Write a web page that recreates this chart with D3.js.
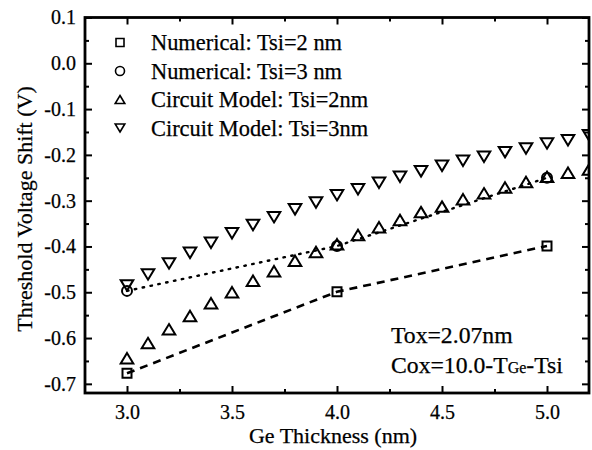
<!DOCTYPE html>
<html><head><meta charset="utf-8">
<script src="https://cdn.jsdelivr.net/npm/d3@7/dist/d3.min.js"></script>
<style>
html,body{margin:0;padding:0;background:#fff;}
text{font-family:"Liberation Serif","Times New Roman",serif;fill:#000;stroke:#000;stroke-width:0.25px;}
</style></head>
<body><svg id="c" width="592" height="450"></svg>
<script>
// ---- data ----
const numX = [3.0, 4.0, 5.0];
const numTsi2 = [-0.677, -0.499, -0.399];
const numTsi3 = [-0.497, -0.399, -0.250];
const cirX = [3.0,3.1,3.2,3.3,3.4,3.5,3.6,3.7,3.8,3.9,4.0,4.1,4.2,4.3,4.4,4.5,4.6,4.7,4.8,4.9,5.0,5.1,5.2];
const cirTsi2 = [-0.644,-0.611,-0.581,-0.552,-0.524,-0.500,-0.475,-0.454,-0.431,-0.412,-0.395,-0.375,-0.358,-0.342,-0.325,-0.313,-0.297,-0.284,-0.271,-0.259,-0.248,-0.239,-0.232];
const cirTsi3 = [-0.485,-0.461,-0.437,-0.414,-0.392,-0.371,-0.353,-0.336,-0.319,-0.304,-0.288,-0.275,-0.261,-0.248,-0.236,-0.224,-0.213,-0.204,-0.194,-0.186,-0.175,-0.168,-0.157];
const xTicks = [3.0, 3.5, 4.0, 4.5, 5.0];
const xMinor = [3.25, 3.75, 4.25, 4.75];
const yTicks = [0.1, 0.0, -0.1, -0.2, -0.3, -0.4, -0.5, -0.6, -0.7];
const yMinor = [0.05, -0.05, -0.15, -0.25, -0.35, -0.45, -0.55, -0.65];
const legendLabels = ["Numerical: Tsi=2 nm", "Numerical: Tsi=3 nm", "Circuit Model: Tsi=2nm", "Circuit Model: Tsi=3nm"];
const legendShapes = ["square", "circle", "up", "down"];

// ---- layout ----
const L = 85, R = 589, T = 17.5, B = 393;
const svg = d3.select("#c");
const x = d3.scaleLinear().domain([2.8, 5.2]).range([L, R]);
const y = d3.scaleLinear().domain([-0.72, 0.1]).range([B, T]);
const fmt = d => d3.format(".1f")(d).replace("\u2212", "-");

function shapePath(kind, s) {
  if (kind === "square") return `M${-s/2},${-s/2}h${s}v${s}h${-s}Z`;
  if (kind === "circle") { const r = s/2; return `M${r},0A${r},${r} 0 1,1 ${-r},0A${r},${r} 0 1,1 ${r},0Z`; }
  const w = s*1.2/2, h = s*0.5;
  if (kind === "up") return `M0,${-h}L${w},${h}L${-w},${h}Z`;
  return `M0,${h}L${w},${-h}L${-w},${-h}Z`;
}

svg.append("defs").append("clipPath").attr("id","clip")
  .append("rect").attr("x", L).attr("y", T).attr("width", R-L).attr("height", B-T);

const plot = svg.append("g").attr("clip-path","url(#clip)");

// lines
const line = d3.line().x(d => x(d[0])).y(d => y(d[1]));
plot.append("path").datum(numX.map((v,i)=>[v,numTsi2[i]])).attr("d", line)
  .attr("fill","none").attr("stroke","#000").attr("stroke-width",2.6).attr("stroke-dasharray","8,6");
plot.append("path").datum(numX.map((v,i)=>[v,numTsi3[i]])).attr("d", line)
  .attr("fill","none").attr("stroke","#000").attr("stroke-width",2.4).attr("stroke-dasharray","1.5,6.5").attr("stroke-linecap","round");

function drawMarkers(xs, ys, kind, size) {
  plot.append("g").selectAll("path").data(xs.map((v,i)=>[v,ys[i]])).join("path")
    .attr("transform", d => `translate(${x(d[0])},${y(d[1])})`)
    .attr("d", shapePath(kind, size))
    .attr("fill","none").attr("stroke","#000").attr("stroke-width",2);
}
drawMarkers(cirX, cirTsi2, "up", 10.5);
drawMarkers(cirX, cirTsi3, "down", 10.5);
drawMarkers(numX, numTsi2, "square", 9);
drawMarkers(numX, numTsi3, "circle", 10);

// axes
const tfs = "20px";
svg.append("g").attr("transform",`translate(0,${B})`)
  .call(d3.axisBottom(x).tickValues(xTicks).tickSizeInner(-7).tickSizeOuter(0).tickPadding(12).tickFormat(fmt));
svg.append("g").attr("transform",`translate(0,${B})`)
  .call(d3.axisBottom(x).tickValues(xMinor).tickSizeInner(-4).tickSizeOuter(0).tickFormat(""));
svg.append("g").attr("transform",`translate(0,${T})`)
  .call(d3.axisTop(x).tickValues(xTicks).tickSizeInner(-7).tickSizeOuter(0).tickFormat(""));
svg.append("g").attr("transform",`translate(0,${T})`)
  .call(d3.axisTop(x).tickValues(xMinor).tickSizeInner(-4).tickSizeOuter(0).tickFormat(""));
svg.append("g").attr("transform",`translate(${L},0)`)
  .call(d3.axisLeft(y).tickValues(yTicks).tickSizeInner(-7).tickSizeOuter(0).tickPadding(9).tickFormat(fmt));
svg.append("g").attr("transform",`translate(${L},0)`)
  .call(d3.axisLeft(y).tickValues(yMinor).tickSizeInner(-4).tickSizeOuter(0).tickFormat(""));
svg.append("g").attr("transform",`translate(${R},0)`)
  .call(d3.axisRight(y).tickValues(yTicks).tickSizeInner(-7).tickSizeOuter(0).tickFormat(""));
svg.append("g").attr("transform",`translate(${R},0)`)
  .call(d3.axisRight(y).tickValues(yMinor).tickSizeInner(-4).tickSizeOuter(0).tickFormat(""));
svg.selectAll(".domain").remove();
svg.selectAll(".tick line").attr("stroke","#000").attr("stroke-width",2);
svg.selectAll(".tick text").attr("font-family",'"Liberation Serif",serif').attr("font-size",tfs).attr("fill","#000").attr("stroke","#000").attr("stroke-width",0.45);

svg.append("rect").attr("x",L).attr("y",T).attr("width",R-L).attr("height",B-T)
  .attr("fill","none").attr("stroke","#000").attr("stroke-width",2.8);

// axis titles
svg.append("text").attr("x",333).attr("y",443).attr("text-anchor","middle")
  .style("font-size","22px").text("Ge Thickness (nm)");
svg.append("text").attr("transform","translate(32,209) rotate(-90)").attr("text-anchor","middle")
  .style("font-size","22px").text("Threshold Voltage Shift (V)");

// legend
const lg = svg.append("g");
legendLabels.forEach((lab,i) => {
  const yy = 42.5 + i*28.5;
  lg.append("path").attr("transform",`translate(120,${yy})`).attr("d", shapePath(legendShapes[i], legendShapes[i]==="square"?8:(legendShapes[i]==="circle"?9:8)))
    .attr("fill","none").attr("stroke","#000").attr("stroke-width",1.6);
  lg.append("text").attr("x",151).attr("y",yy+7.5).style("font-size","22.4px").text(lab);
});

// annotation
svg.append("text").attr("x",391).attr("y",343).style("font-size","23.7px").text("Tox=2.07nm");
const an = svg.append("text").attr("x",391).attr("y",373).style("font-size","23.7px");
an.append("tspan").text("Cox=10.0-T");
an.append("tspan").style("font-size","16px").text("Ge");
an.append("tspan").text("-Tsi");
</script></body></html>
